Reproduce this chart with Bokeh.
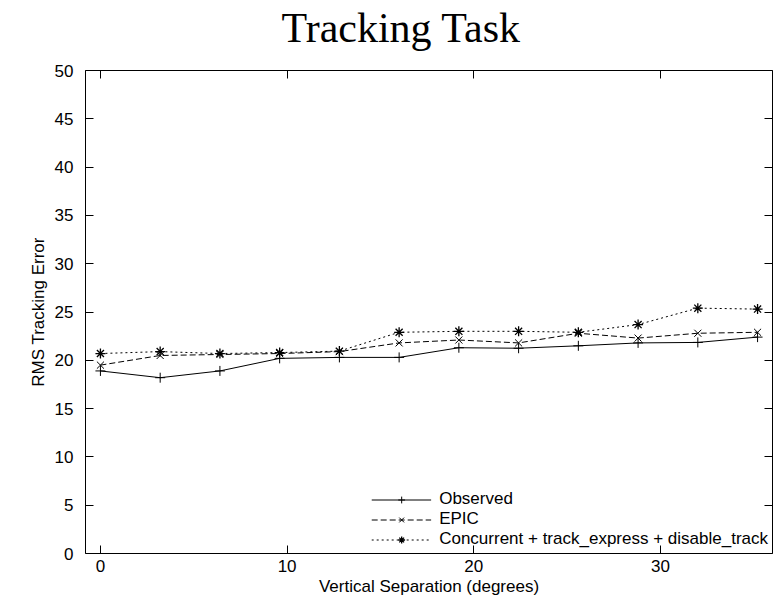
from bokeh.plotting import figure
from bokeh.models import (Range1d, LinearAxis, FixedTicker, CustomJSTickFormatter,
                          Legend, LegendItem)
from bokeh.embed import file_html
from bokeh.resources import INLINE

# ---- data ----
separation = [0, 3.2, 6.4, 9.6, 12.8, 16.0, 19.2, 22.4, 25.6, 28.8, 32.0, 35.2]
observed = [18.9, 18.2, 18.9, 20.2, 20.3, 20.3, 21.3, 21.25, 21.5, 21.8, 21.85, 22.4]
epic = [19.5, 20.5, 20.6, 20.7, 20.9, 21.8, 22.1, 21.8, 22.8, 22.3, 22.8, 22.9]
concurrent = [20.7, 20.9, 20.7, 20.8, 20.95, 22.9, 23.0, 23.0, 22.9, 23.7, 25.4, 25.3]
series_names = ["Observed", "EPIC", "Concurrent + track_express + disable_track"]
x_ticks = [0, 10, 20, 30]
y_ticks = [0, 5, 10, 15, 20, 25, 30, 35, 40, 45, 50]

SANS = "Liberation Sans"
FS = "17px"

p = figure(width=776, height=600, output_backend="svg", toolbar_location=None,
           x_range=Range1d(-0.8, 36.0), y_range=Range1d(0, 50),
           x_axis_label="Vertical Separation (degrees)", y_axis_label="RMS Tracking Error",
           min_border_left=85, min_border_right=4, min_border_top=70, min_border_bottom=47)

p.grid.visible = False
p.background_fill_color = "white"
p.border_fill_color = "white"
p.outline_line_color = "black"
p.outline_line_width = 1

p.title.text = "Tracking Task"
p.title.text_font = "Liberation Serif"
p.title.text_font_size = "42px"
p.title.text_font_style = "normal"
p.title.text_color = "black"
p.title.align = "left"
p.title.offset = 196
p.title.standoff = 0

for ax, tks in ((p.xaxis[0], x_ticks), (p.yaxis[0], y_ticks)):
    ax.ticker = FixedTicker(ticks=tks)
    ax.major_tick_in = 8
    ax.major_tick_out = 0
    ax.minor_tick_line_color = None
    ax.axis_line_color = None
    ax.major_tick_line_color = "black"
    ax.major_label_text_font = SANS
    ax.major_label_text_font_size = FS
    ax.major_label_text_color = "black"
    ax.axis_label_text_font = SANS
    ax.axis_label_text_font_size = FS
    ax.axis_label_text_font_style = "normal"
    ax.axis_label_text_color = "black"

p.xaxis[0].major_label_standoff = 6
p.xaxis[0].axis_label_standoff = 2
p.yaxis[0].major_label_standoff = 12
p.yaxis[0].axis_label_standoff = 4

blank = CustomJSTickFormatter(code="return ''")
top = LinearAxis(ticker=FixedTicker(ticks=x_ticks), formatter=blank,
                 major_tick_in=8, major_tick_out=0, minor_tick_line_color=None,
                 axis_line_color=None, major_label_standoff=0)
# invisible spacer axis that lifts the title away from the frame
top_pad = LinearAxis(ticker=FixedTicker(ticks=x_ticks), formatter=blank,
                     major_tick_in=0, major_tick_out=20, major_tick_line_alpha=0,
                     minor_tick_line_color=None, axis_line_color=None,
                     major_label_standoff=0)
right = LinearAxis(ticker=FixedTicker(ticks=y_ticks), formatter=blank,
                   major_tick_in=8, major_tick_out=0, minor_tick_line_color=None,
                   axis_line_color=None, major_label_standoff=0)
p.add_layout(top, "above")
p.add_layout(top_pad, "above")
p.add_layout(right, "right")

r1 = p.line(separation, observed, line_color="black", line_width=1)
m1 = p.scatter(separation, observed, marker="cross", size=10, line_color="black", line_width=1)
r2 = p.line(separation, epic, line_color="black", line_width=1, line_dash="6 3")
m2 = p.scatter(separation, epic, marker="x", size=10, line_color="black", line_width=1)
r3 = p.line(separation, concurrent, line_color="black", line_width=1, line_dash="2 3")
m3 = p.scatter(separation, concurrent, marker="asterisk", size=10, line_color="black", line_width=1.3)

legend = Legend(items=[LegendItem(label=series_names[0], renderers=[r1, m1]),
                       LegendItem(label=series_names[1], renderers=[r2, m2]),
                       LegendItem(label=series_names[2], renderers=[r3, m3])],
                location="bottom_right", border_line_color=None,
                background_fill_alpha=0, glyph_width=60, glyph_height=17,
                label_height=17, label_text_font=SANS, label_text_font_size=FS,
                label_text_color="black",
                label_standoff=8, spacing=-3, padding=4, margin=4)
p.add_layout(legend)

open("out.html", "w").write(file_html(p, INLINE))
